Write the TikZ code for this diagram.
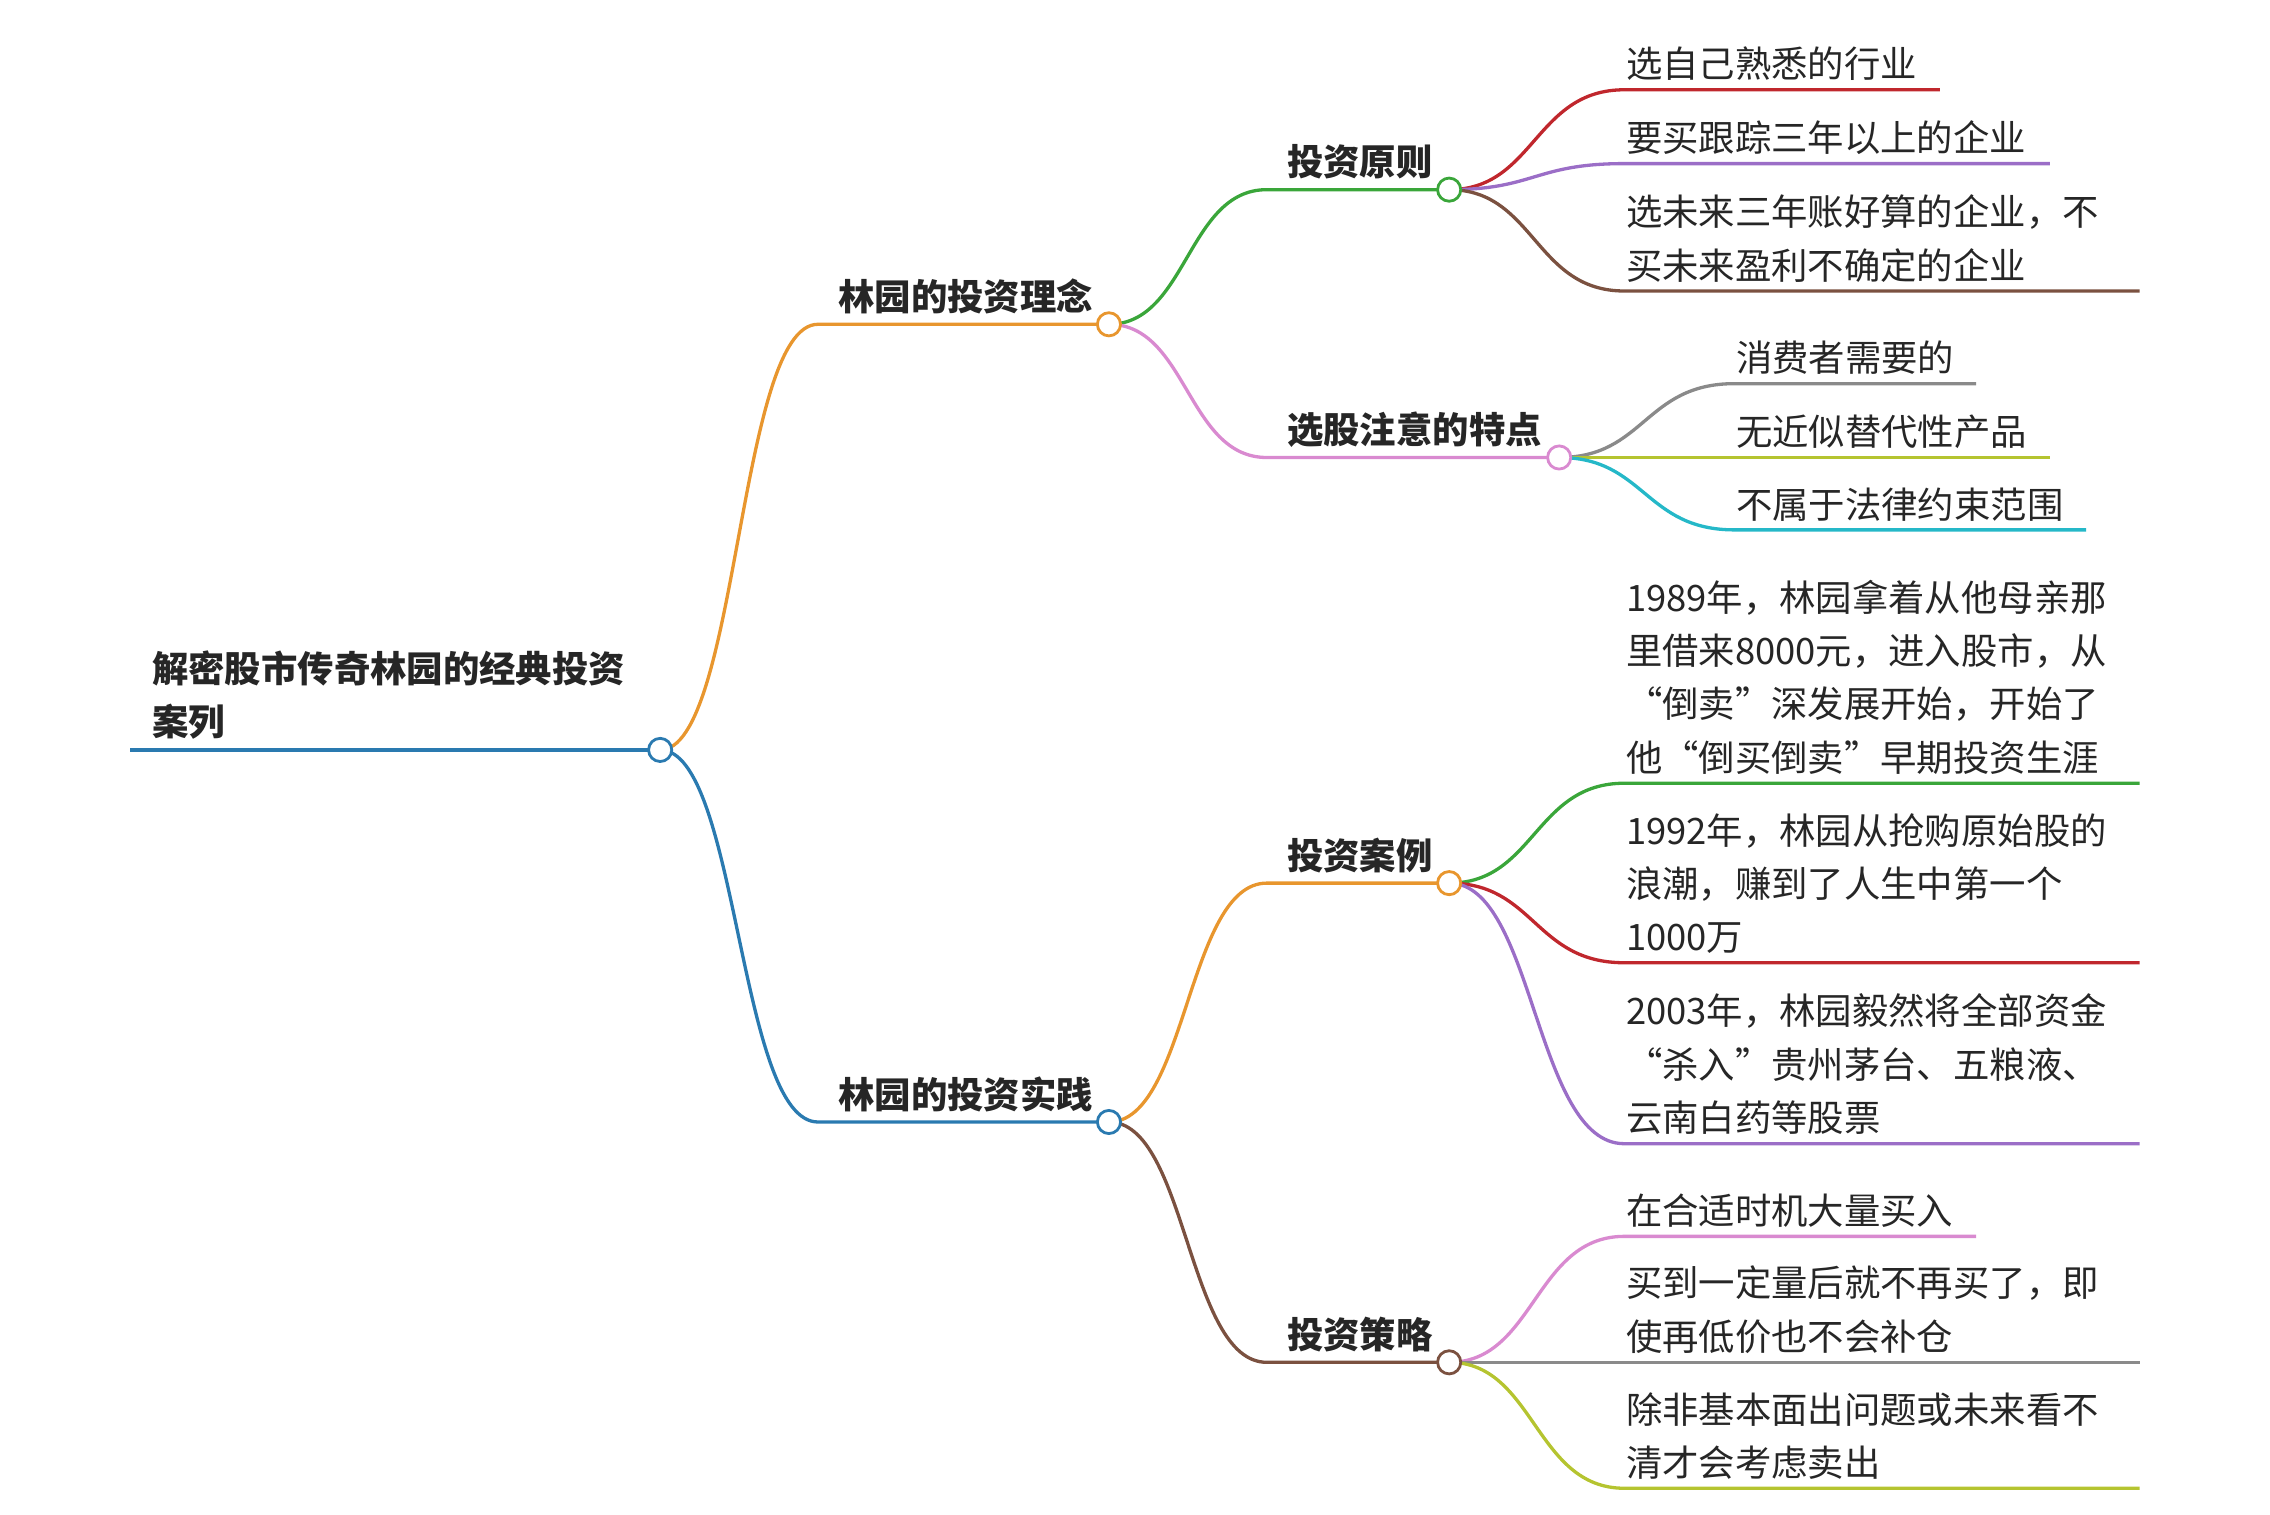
\documentclass[tikz,border=0pt]{standalone}
\usepackage{fontspec}
\setmainfont{Noto Sans CJK SC}
\begin{document}
\begin{tikzpicture}[x=0.02cm,y=-0.02cm,line width=1.3pt,
  lbl/.style={anchor=south west,inner sep=0pt,align=left,font=\fontsize{14.3}{21}\selectfont,text=black!85},
  blbl/.style={lbl,font=\fontsize{14.3}{21}\selectfont\bfseries},
  dot/.style={circle,draw,fill=white,minimum size=0.32cm,inner sep=0pt,line width=1.1pt}]
\definecolor{cblue}{HTML}{2A7AB0}\definecolor{corange}{HTML}{E8962E}
\definecolor{cpink}{HTML}{D98AD0}\definecolor{cgreen}{HTML}{3AA63A}
\definecolor{cred}{HTML}{C0272D}\definecolor{cpurple}{HTML}{9B6EC7}
\definecolor{cbrown}{HTML}{7B5140}\definecolor{cgray}{HTML}{8A8A8A}
\definecolor{colive}{HTML}{B5C430}\definecolor{cteal}{HTML}{25B8C8}
\useasboundingbox (0,0) rectangle (1568,1046);
% root
\coordinate (r0) at (90,518);
\node[blbl] (rt) at (104,512) {解密股市传奇林园的经典投资\\案列};
\draw[cblue] (r0) -- (456,518);
% level1
\coordinate (a1) at (565,224); \coordinate (b1) at (565,775);
\draw[corange] (456,518) .. controls (510,518) and (510,224) .. (a1) -- (766,224);
\draw[cblue] (456,518) .. controls (510,518) and (510,775) .. (b1) -- (766,775);
\node[dot,draw=cblue] (R) at (456,518) {};
\node[blbl] (at) at (578,218) {林园的投资理念};
\node[blbl] (bt) at (578,769) {林园的投资实践};
% level2
\draw[cgreen] (766,224) .. controls (820,224) and (820,131) .. (875,131) -- (1001,131);
\draw[cpink] (766,224) .. controls (820,224) and (820,316) .. (875,316) -- (1077,316);
\draw[corange] (766,775) .. controls (820,775) and (820,610) .. (875,610) -- (1001,610);
\draw[cbrown] (766,775) .. controls (820,775) and (820,941) .. (875,941) -- (1001,941);
\node[dot,draw=corange] (A) at (766,224) {};
\node[dot,draw=cblue] (B) at (766,775) {};
\node[blbl] at (888,125) {投资原则};
\node[blbl] at (888,310) {选股注意的特点};
\node[blbl] at (888,604) {投资案例};
\node[blbl] at (888,935) {投资策略};
% leaves of 投资原则
\draw[cred] (1001,131) .. controls (1060,131) and (1060,62) .. (1122,62) -- (1340,62);
\draw[cpurple] (1001,131) .. controls (1060,131) and (1060,113) .. (1122,113) -- (1416,113);
\draw[cbrown] (1001,131) .. controls (1060,131) and (1060,201) .. (1122,201) -- (1478,201);
\node[dot,draw=cgreen] (A1) at (1001,131) {};
\node[lbl] at (1122,57) {选自己熟悉的行业};
\node[lbl] at (1122,108) {要买跟踪三年以上的企业};
\node[lbl] at (1122,196) {选未来三年账好算的企业，不\\买未来盈利不确定的企业};
% leaves of 选股
\draw[cgray] (1077,316) .. controls (1136,316) and (1136,265) .. (1198,265) -- (1365,265);
\draw[colive] (1077,316) -- (1416,316);
\draw[cteal] (1077,316) .. controls (1136,316) and (1136,366) .. (1198,366) -- (1441,366);
\node[dot,draw=cpink] (A2) at (1077,316) {};
\node[lbl] at (1198,260) {消费者需要的};
\node[lbl] at (1198,311) {无近似替代性产品};
\node[lbl] at (1198,361) {不属于法律约束范围};
% leaves of 投资案例
\draw[cgreen] (1001,610) .. controls (1060,610) and (1060,541) .. (1122,541) -- (1478,541);
\draw[cred] (1001,610) .. controls (1060,610) and (1060,665) .. (1122,665) -- (1478,665);
\draw[cpurple] (1001,610) .. controls (1060,610) and (1060,790) .. (1122,790) -- (1478,790);
\node[dot,draw=corange] (B1) at (1001,610) {};
\node[lbl] at (1122,536) {1989年，林园拿着从他母亲那\\里借来8000元，进入股市，从\\“倒卖”深发展开始，开始了\\他“倒买倒卖”早期投资生涯};
\node[lbl] at (1122,660) {1992年，林园从抢购原始股的\\浪潮，赚到了人生中第一个\\1000万};
\node[lbl] at (1122,785) {2003年，林园毅然将全部资金\\“杀入”贵州茅台、五粮液、\\云南白药等股票};
% leaves of 投资策略
\draw[cpink] (1001,941) .. controls (1060,941) and (1060,854) .. (1122,854) -- (1365,854);
\draw[cgray] (1001,941) -- (1478,941);
\draw[colive] (1001,941) .. controls (1060,941) and (1060,1028) .. (1122,1028) -- (1478,1028);
\node[dot,draw=cbrown] (B2) at (1001,941) {};
\node[lbl] at (1122,849) {在合适时机大量买入};
\node[lbl] at (1122,936) {买到一定量后就不再买了，即\\使再低价也不会补仓};
\node[lbl] at (1122,1023) {除非基本面出问题或未来看不\\清才会考虑卖出};
\end{tikzpicture}
\end{document}
